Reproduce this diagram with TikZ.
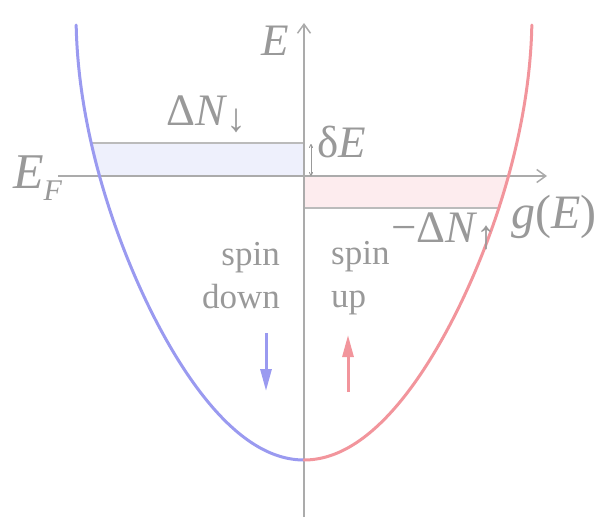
\documentclass[tikz,border=0pt]{standalone}
\usepackage{fontspec}
\setmainfont{Liberation Serif}
\usetikzlibrary{arrows.meta}
\definecolor{txt}{HTML}{999999}
\definecolor{axiscol}{HTML}{ABABAB}
\definecolor{bluecurve}{HTML}{9A9AF0}
\definecolor{redcurve}{HTML}{F2959C}
\definecolor{bluefill}{HTML}{EEF0FC}
\definecolor{redfill}{HTML}{FDECEE}
\definecolor{edgecol}{HTML}{BBBBBB}
\newcommand{\subarr}[1]{\hspace{-1pt}\raisebox{-6pt}{\fontsize{40}{40}\selectfont #1}}
\begin{document}
\begin{tikzpicture}[x=1pt,y=-1pt,
  mathlbl/.style={text=txt,inner sep=0pt,font=\fontsize{45}{45}\selectfont},
  txtlbl/.style={text=txt,inner sep=0pt,font=\fontsize{35}{43}\selectfont},
  axisline/.style={draw=axiscol,line width=1.5pt,-{Straight Barb[length=9pt,width=13pt]}},
  edgeline/.style={draw=edgecol,line width=1.5pt},
  curve/.style={line width=3pt,line cap=round},
  spinarrow/.style={line width=3pt,-{Triangle[length=22pt,width=11pt]}},
  smallarrow/.style={draw=txt,line width=0.9pt,{To[length=4pt,width=4pt]}-{To[length=4pt,width=4pt]}}
]
\useasboundingbox (0,0) rectangle (613,517);
% band fills
\fill[bluefill] (91.3,143) -- (304,143) -- (304,176) -- (99.5,176) -- cycle;
\fill[redfill] (304,176) -- (508.5,176) -- (498.8,208) -- (304,208) -- cycle;
\coordinate (bt1) at (91.3,143); \coordinate (bt2) at (304,143);
\coordinate (rb1) at (304,208); \coordinate (rb2) at (498.8,208);
\draw[edgeline] (bt1) -- (bt2);
\draw[edgeline] (rb1) -- (rb2);
% axes
\coordinate (ybot) at (304,517); \coordinate (ytop) at (304,23);
\coordinate (xl) at (58,176); \coordinate (xr) at (547,176);
\draw[axisline] (ybot) -- (ytop);
\draw[axisline] (xl) -- (xr);
% curves: d = 12.6 s (1 - 0.133 (s^2/435)^3), y = 460 - s^2
\draw[curve,bluecurve] plot[smooth,domain=0:20.857,samples=90,variable=\s]
  ({304-12.6*\s*(1-0.133*pow(\s*\s/435,3))},{460-\s*\s});
\draw[curve,redcurve] plot[smooth,domain=0:20.857,samples=90,variable=\s]
  ({304+12.6*\s*(1-0.133*pow(\s*\s/435,3))},{460-\s*\s});
% delta E arrow
\coordinate (de1) at (311,144); \coordinate (de2) at (311,176);
\draw[smallarrow] (de1) -- (de2);
% spin arrows
\coordinate (sd1) at (266,333); \coordinate (sd2) at (266,391);
\coordinate (su1) at (348,392); \coordinate (su2) at (348,335);
\draw[spinarrow,bluecurve] (sd1) -- (sd2);
\draw[spinarrow,redcurve] (su1) -- (su2);
% labels
\node[mathlbl,anchor=base west] (lE) at (261,55) {\itshape E};
\node[mathlbl,anchor=base west] (lDN) at (166,125) {Δ\textit{N}\subarr{↓}};
\node[mathlbl,anchor=base west] (ldE) at (317,157) {δ\textit{E}};
\node[mathlbl,anchor=base west,font=\fontsize{50}{50}\selectfont] (lEF) at (13,188) {\textit{E}\raisebox{-12pt}{\fontsize{30}{30}\selectfont\textit{F}}};
\node[mathlbl,anchor=base west,font=\fontsize{48}{48}\selectfont] (lg) at (511,228) {\textit{g}(\textit{E})};
\node[mathlbl,anchor=base west] (lmDN) at (391,242) {−Δ\textit{N}\subarr{↑}};
\node[txtlbl,anchor=base east,align=right] (lsd) at (280,308) {spin\\down};
\node[txtlbl,anchor=base west,align=left] (lsu) at (331,307) {spin\\up};
\end{tikzpicture}
\end{document}
